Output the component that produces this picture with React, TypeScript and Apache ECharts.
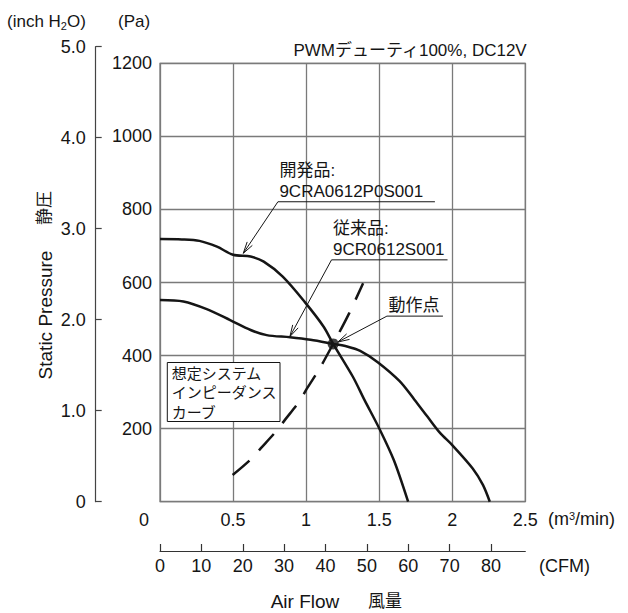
import React, { useEffect, useRef } from 'react';
import * as echarts from 'echarts';

// Axis ticks
const flowTicks = [0, 0.5, 1, 1.5, 2, 2.5]; // m³/min
const pressureTicks = [0, 200, 400, 600, 800, 1000, 1200]; // Pa
const inchTicks = [0, 1, 2, 3, 4, 5]; // inch H2O
const cfmTicks = [0, 10, 20, 30, 40, 50, 60, 70, 80]; // CFM

const PA_PER_INCH = 249.09;
const CFM_PER_M3MIN = 35.3147;

// P-Q curves: [airflow m³/min, static pressure Pa]
const newFanCurve: [number, number][] = [
  [0, 719], [0.15, 718], [0.27, 714], [0.39, 698], [0.5, 676], [0.62, 671],
  [0.71, 657], [0.84, 616], [0.99, 547], [1.12, 479], [1.185, 432],
  [1.32, 342], [1.4, 278], [1.5, 201], [1.6, 114], [1.698, 0],
];
const oldFanCurve: [number, number][] = [
  [0, 552], [0.16, 548], [0.32, 527], [0.48, 497], [0.62, 470], [0.73, 456],
  [0.89, 450], [1.03, 443], [1.185, 432], [1.28, 425], [1.37, 413],
  [1.49, 382], [1.64, 330], [1.74, 280], [1.83, 233], [1.915, 189], [2.0, 155],
  [2.14, 91], [2.21, 46], [2.257, 0],
];
const impedanceCurve: [number, number][] = [
  [0.497, 73], [0.616, 114], [0.689, 146], [0.793, 192], [0.855, 224],
  [0.953, 274], [1.003, 308], [1.09, 363], [1.185, 432], [1.29, 512], [1.39, 598],
];
const operatingPoint: [number, number] = [1.185, 432];

// Callouts: arrow tip and elbow in data units
const callouts = [
  { lines: ['開発品:', '9CRA0612P0S001'], tip: [0.57, 680], elbow: [0.807, 821], width: 157 },
  { lines: ['従来品:', '9CR0612S001'], tip: [0.889, 452], elbow: [1.174, 662], width: 116 },
  { lines: ['動作点'], tip: [1.217, 437], elbow: [1.553, 508], width: 56 },
];
const boxLines = ['想定システム', 'インピーダンス', 'カーブ'];
const boxCorner: [number, number] = [0.05, 381];

const FONT = "'Liberation Sans', 'Noto Sans CJK JP', sans-serif";
const INK = '#151515';
const GRID = '#7a7a7a';

const PLOT = { left: 160, top: 63.3, width: 365.3, height: 438.4 };
const PLOT_BOTTOM = PLOT.top + PLOT.height;
const inchHeight = PLOT.height * (inchTicks[inchTicks.length - 1] * PA_PER_INCH) / pressureTicks[pressureTicks.length - 1];

export default function App() {
  const ref = useRef<HTMLDivElement>(null);

  useEffect(() => {
    const el = ref.current!;
    const chart = echarts.init(el, null, { renderer: 'svg' });
    const flowMax = flowTicks[flowTicks.length - 1];
    const paMax = pressureTicks[pressureTicks.length - 1];

    const curveStyle = { color: INK, width: 2.5 };

    chart.setOption({
      animation: false,
      grid: [
        { ...PLOT, show: true, borderColor: GRID, borderWidth: 1.3, backgroundColor: 'transparent' },
        { left: 95.7, top: PLOT_BOTTOM - inchHeight, width: 1, height: inchHeight },
        { left: PLOT.left, top: 540, width: PLOT.width, height: 11 },
      ],
      xAxis: [
        {
          gridIndex: 0, type: 'value', min: 0, max: flowMax, interval: 0.5,
          axisLine: { show: false }, axisTick: { show: false },
          splitLine: { show: true, lineStyle: { color: GRID, width: 1.3 } },
          axisLabel: {
            margin: 9, fontSize: 18, fontFamily: FONT, color: INK,
            formatter: (v: number) => (v === 0 ? '{z|0}' : String(v)),
            rich: { z: { fontSize: 18, fontFamily: FONT, color: INK, padding: [0, 32, 0, 0] } },
          },
        },
        { gridIndex: 1, type: 'value', show: false, min: 0, max: 1 },
        {
          gridIndex: 2, type: 'value', position: 'bottom', min: 0, max: flowMax * CFM_PER_M3MIN, interval: 10,
          axisLine: { show: true, lineStyle: { color: '#333', width: 1.2 } },
          axisTick: { show: true, inside: true, length: 7, customValues: cfmTicks, lineStyle: { color: '#333', width: 1.2 } },
          splitLine: { show: false },
          axisLabel: {
            margin: 6, fontSize: 18, fontFamily: FONT, color: INK, customValues: cfmTicks,
            formatter: (v: number) => (cfmTicks.includes(Math.round(v)) && Math.abs(v - Math.round(v)) < 1e-6 ? String(Math.round(v)) : ''),
          },
        },
      ],
      yAxis: [
        {
          gridIndex: 0, type: 'value', min: 0, max: paMax, interval: 200,
          axisLine: { show: false }, axisTick: { show: false },
          splitLine: { show: true, lineStyle: { color: GRID, width: 1.3 } },
          axisLabel: {
            margin: 8, fontSize: 18, fontFamily: FONT, color: INK, showMinLabel: false,
            formatter: (v: number) => String(v),
          },
        },
        {
          gridIndex: 1, type: 'value', min: 0, max: inchTicks[inchTicks.length - 1], interval: 1, position: 'left',
          axisLine: { show: true, lineStyle: { color: '#444', width: 1.2 } },
          axisTick: { show: true, inside: true, length: 6, lineStyle: { color: '#444', width: 1.2 } },
          splitLine: { show: false },
          axisLabel: {
            margin: 10, fontSize: 18, fontFamily: FONT, color: INK,
            formatter: (v: number) => (v === 0 ? '0' : v.toFixed(1)),
          },
        },
        { gridIndex: 2, type: 'value', show: false, min: 0, max: 1 },
      ],
      series: [
        {
          type: 'line', xAxisIndex: 0, yAxisIndex: 0, data: impedanceCurve, showSymbol: false,
          smooth: 0.3, lineStyle: { color: INK, width: 2.5, type: [22, 14] },
        },
        {
          type: 'line', xAxisIndex: 0, yAxisIndex: 0, data: newFanCurve, showSymbol: false,
          smooth: 0.3, lineStyle: curveStyle,
        },
        {
          type: 'line', xAxisIndex: 0, yAxisIndex: 0, data: oldFanCurve, showSymbol: false,
          smooth: 0.3, lineStyle: curveStyle,
        },
        {
          type: 'scatter', xAxisIndex: 0, yAxisIndex: 0, data: [operatingPoint],
          symbol: 'circle', symbolSize: 11, itemStyle: { color: INK }, z: 5,
        },
      ],
    });

    const toPx = (p: number[]) => chart.convertToPixel({ gridIndex: 0 }, p) as number[];
    const txt = (x: number, y: number, text: string, extra: any = {}) => ({
      type: 'text', x, y, z: 10,
      style: { text, fill: INK, fontSize: 17, fontFamily: FONT, textAlign: 'left', textVerticalAlign: 'middle', ...extra },
    });

    const graphics: any[] = [
      txt(7, 21.7, '(inch H{sub|2}O)', {
        fontSize: 17,
        rich: { sub: { fontSize: 11, fontFamily: FONT, fill: INK, verticalAlign: 'bottom', padding: [0, 0, -1, 0] } },
      }),
      txt(118, 21.7, '(Pa)'),
      txt(526.7, 50, 'PWMデューティ100%, DC12V', { textAlign: 'right' }),
      txt(548, 519, '(m{sup|3}/min)', {
        fontSize: 18,
        rich: { sup: { fontSize: 11, fontFamily: FONT, fill: INK, verticalAlign: 'top' } },
      }),
      txt(539, 565.7, '(CFM)', { fontSize: 18 }),
      txt(270.7, 601.7, 'Air Flow', { fontSize: 19 }),
      txt(368, 601.7, '風量', { fontSize: 17 }),
      { ...txt(45, 315, 'Static Pressure', { fontSize: 19, textAlign: 'center' }), rotation: Math.PI / 2 },
      { ...txt(44.5, 208, '静圧', { fontSize: 17, textAlign: 'center' }), rotation: Math.PI / 2 },
    ];

    // System impedance label box
    const [bx, by] = toPx(boxCorner);
    graphics.push({
      type: 'rect', z: 8, shape: { x: bx, y: by, width: 112.7, height: 59 },
      style: { fill: '#fff', stroke: INK, lineWidth: 1 },
    });
    boxLines.forEach((line, i) => {
      graphics.push(txt(bx + 4.4, by + 10.6 + i * 19.7, line, { fontSize: 15 }));
    });

    // Leader lines with open arrowheads
    const ARM = 12;
    const ANG = (15 * Math.PI) / 180;
    callouts.forEach((c) => {
      const tip = toPx(c.tip);
      const elbow = toPx(c.elbow);
      graphics.push({
        type: 'polyline', z: 9,
        shape: { points: [tip, elbow, [elbow[0] + c.width, elbow[1]]] },
        style: { stroke: INK, lineWidth: 1, fill: 'none' },
      });
      const dx = elbow[0] - tip[0];
      const dy = elbow[1] - tip[1];
      const len = Math.hypot(dx, dy);
      const ux = dx / len;
      const uy = dy / len;
      const arm = (a: number) => [
        tip[0] + ARM * (ux * Math.cos(a) - uy * Math.sin(a)),
        tip[1] + ARM * (ux * Math.sin(a) + uy * Math.cos(a)),
      ];
      graphics.push({
        type: 'polyline', z: 9,
        shape: { points: [arm(ANG), tip, arm(-ANG)] },
        style: { stroke: INK, lineWidth: 1, fill: 'none' },
      });
      const n = c.lines.length;
      c.lines.forEach((line, i) => {
        const fromBottom = n - 1 - i;
        const cy = elbow[1] - (n === 1 ? 11 : 10) - fromBottom * 21;
        graphics.push(txt(elbow[0] + 1.5, cy, line));
      });
    });

    chart.setOption({ graphic: graphics });
    return () => chart.dispose();
  }, []);

  return <div ref={ref} style={{ position: 'absolute', left: 0, top: 0, width: 628, height: 613 }} />;
}
